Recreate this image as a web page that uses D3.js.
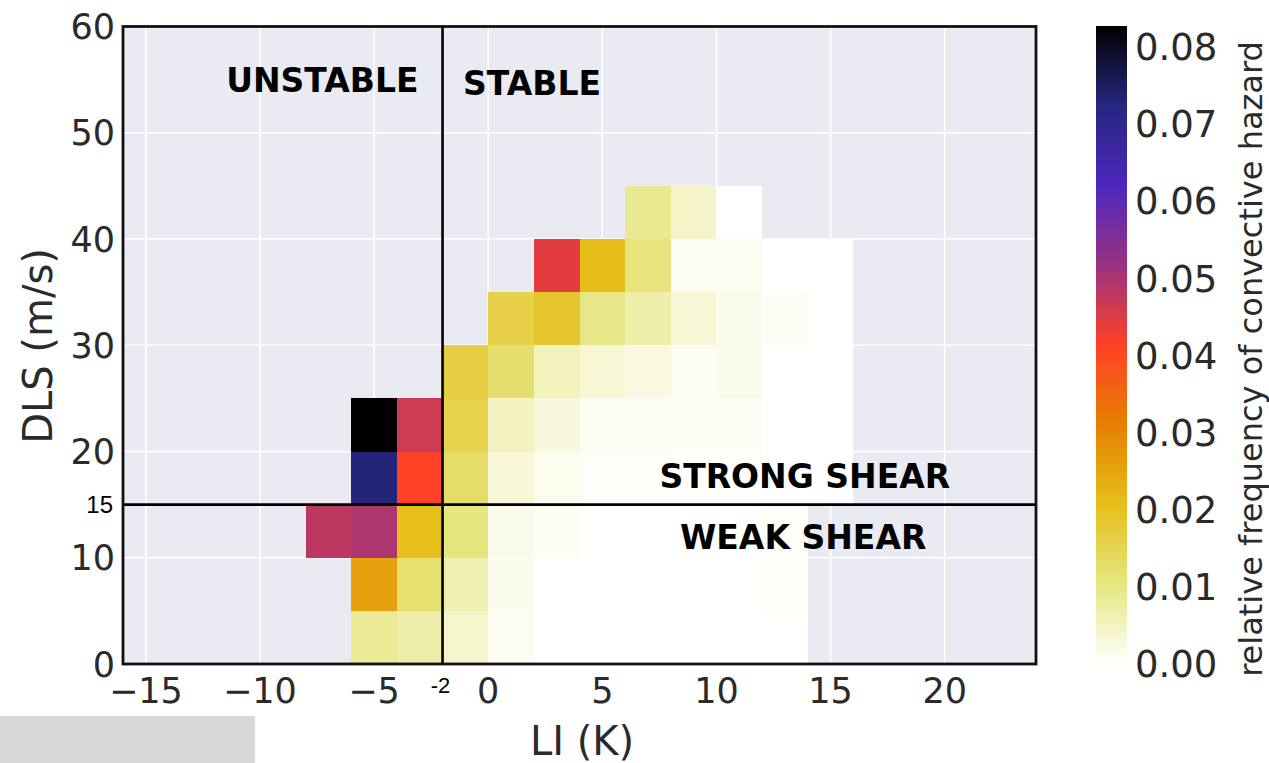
<!DOCTYPE html>
<html>
<head>
<meta charset="utf-8">
<script src="https://cdn.jsdelivr.net/npm/d3@7"></script>
<style>
  html, body { margin: 0; padding: 0; background: #ffffff; }
  svg { display: block; font-family: "DejaVu Sans", sans-serif; }
</style>
</head>
<body>
<svg id="chart" width="1269" height="763"></svg>
<script>
// Lower edges of the 2 K lifted-index bins
const liBins = [-8, -6, -4, -2, 0, 2, 4, 6, 8, 10, 12, 14];
const liWidth = 2;
// Lower edges of the 5 m/s deep-layer-shear bins
const dlsBins = [0, 5, 10, 15, 20, 25, 30, 35, 40];
const dlsHeight = 5;

// Relative frequency of convective hazard per DLS band (null = no samples)
const freqDls0  = [null, 0.0085, 0.0069, 0.0041, 0.0011, 0, 0, 0, 0, 0, 0, null];
const freqDls5  = [null, 0.0257, 0.0119, 0.0063, 0.0014, 0, 0, 0, 0, 0, 0.0005, null];
const freqDls10 = [0.0480, 0.0496, 0.0207, 0.0105, 0.0019, 0.0009, 0, 0, 0, 0, 0.0005, null];
const freqDls15 = [null, 0.0730, 0.0410, 0.0127, 0.0031, 0.0013, 0.0006, 0.0005, 0.0003, 0.0003, 0, 0];
const freqDls20 = [null, 0.0827, 0.0465, 0.0157, 0.0050, 0.0028, 0.0012, 0.0012, 0.0008, 0.0007, 0, 0];
const freqDls25 = [null, null, null, 0.0166, 0.0124, 0.0055, 0.0033, 0.0024, 0.0010, 0.0016, 0, 0];
const freqDls30 = [null, null, null, null, 0.0160, 0.0189, 0.0098, 0.0069, 0.0033, 0.0016, 0.0008, 0];
const freqDls35 = [null, null, null, null, null, 0.0443, 0.0210, 0.0108, 0.0009, 0.0011, 0, 0];
const freqDls40 = [null, null, null, null, null, null, null, 0.0089, 0.0045, 0, null, null];
const freqRows = [freqDls0, freqDls5, freqDls10, freqDls15, freqDls20, freqDls25, freqDls30, freqDls35, freqDls40];

// Axis ticks
const xTicks = [-15, -10, -5, 0, 5, 10, 15, 20];
const yTicks = [0, 10, 20, 30, 40, 50, 60];
const cbarTicks = [0, 0.01, 0.02, 0.03, 0.04, 0.05, 0.06, 0.07, 0.08];
const liThreshold = -2;
const dlsThreshold = 15;

// CMRmap_r colour stops (fraction of the colour range)
const cmapStops = [0, 0.125, 0.25, 0.375, 0.5, 0.625, 0.75, 0.875, 1];
const cmapColors = ["#ffffff", "rgb(230,230,128)", "rgb(230,191,26)", "rgb(230,128,0)",
  "rgb(255,64,38)", "rgb(153,51,128)", "rgb(77,38,191)", "rgb(38,38,128)", "#000000"];

const svg = d3.select("#chart");
const plot = { left: 123, right: 1036, top: 26.5, bottom: 664 };
const textGray = "#2a2a2a";

const x = d3.scaleLinear().domain([-16, 24]).range([plot.left, plot.right]);
const y = d3.scaleLinear().domain([0, 60]).range([plot.bottom, plot.top]);

const cells = [];
freqRows.forEach((row, r) => row.forEach((v, c) => {
  if (v !== null) cells.push({ li: liBins[c], dls: dlsBins[r], v });
}));
const vmax = d3.max(cells, d => d.v);
const color = d3.scaleLinear()
  .domain(cmapStops.map(s => s * vmax))
  .range(cmapColors)
  .interpolate(d3.interpolateRgb)
  .clamp(true);

// Plot background
svg.append("rect")
  .attr("x", plot.left).attr("y", plot.top)
  .attr("width", plot.right - plot.left).attr("height", plot.bottom - plot.top)
  .attr("fill", "#eaeaf2");

// Grid lines
const grid = svg.append("g").attr("stroke", "#ffffff").attr("stroke-width", 1.6);
grid.selectAll("line.gx").data(xTicks).join("line")
  .attr("x1", d => x(d)).attr("x2", d => x(d))
  .attr("y1", plot.top).attr("y2", plot.bottom);
grid.selectAll("line.gy").data(yTicks.slice(1, -1)).join("line")
  .attr("x1", plot.left).attr("x2", plot.right)
  .attr("y1", d => y(d)).attr("y2", d => y(d));

// Heatmap cells
svg.append("g").selectAll("rect").data(cells).join("rect")
  .attr("x", d => x(d.li))
  .attr("y", d => y(d.dls + dlsHeight))
  .attr("width", d => x(d.li + liWidth) - x(d.li))
  .attr("height", d => y(d.dls) - y(d.dls + dlsHeight))
  .attr("fill", d => color(d.v))
  .attr("shape-rendering", "crispEdges");

// Threshold lines
svg.append("line")
  .attr("x1", x(liThreshold)).attr("x2", x(liThreshold))
  .attr("y1", plot.top).attr("y2", plot.bottom)
  .attr("stroke", "#000").attr("stroke-width", 2.6);
svg.append("line")
  .attr("x1", plot.left).attr("x2", plot.right)
  .attr("y1", y(dlsThreshold)).attr("y2", y(dlsThreshold))
  .attr("stroke", "#000").attr("stroke-width", 2.6);

// Frame
svg.append("rect")
  .attr("x", plot.left).attr("y", plot.top)
  .attr("width", plot.right - plot.left).attr("height", plot.bottom - plot.top)
  .attr("fill", "none").attr("stroke", "#111").attr("stroke-width", 2.8);

// Region annotations
const ann = svg.append("g")
  .attr("font-family", "'DejaVu Sans', sans-serif")
  .attr("font-weight", "bold").attr("font-size", 33).attr("fill", "#000");
ann.append("text").attr("x", x(-3.05)).attr("y", y(53.8)).attr("text-anchor", "end").text("UNSTABLE");
ann.append("text").attr("x", x(-1.1)).attr("y", y(53.6)).text("STABLE");
ann.append("text").attr("x", x(7.5)).attr("y", y(16.55)).text("STRONG SHEAR");
ann.append("text").attr("x", x(8.4)).attr("y", y(10.8)).text("WEAK SHEAR");

// Tick labels
const fmtMinus = d => d < 0 ? "\u2212" + Math.abs(d) : String(d);
svg.append("g").selectAll("text").data(xTicks).join("text")
  .attr("x", d => x(d)).attr("y", 703)
  .attr("text-anchor", "middle").attr("font-size", 35).attr("fill", textGray)
  .text(fmtMinus);
svg.append("g").selectAll("text").data(yTicks).join("text")
  .attr("x", 115).attr("y", d => y(d)).attr("dy", "0.36em")
  .attr("text-anchor", "end").attr("font-size", 35).attr("fill", textGray)
  .text(d => d);

// Threshold tick labels
svg.append("text")
  .attr("x", x(liThreshold) - 2).attr("y", 693)
  .attr("text-anchor", "middle").attr("font-size", 22)
  .attr("font-family", "'Liberation Sans', Arial, sans-serif").attr("fill", "#000")
  .text("-2");
svg.append("text")
  .attr("x", 113).attr("y", y(dlsThreshold)).attr("dy", "0.36em")
  .attr("text-anchor", "end").attr("font-size", 24)
  .attr("font-family", "'Liberation Sans', Arial, sans-serif").attr("fill", "#000")
  .text("15");

// Axis titles
svg.append("text")
  .attr("x", 582).attr("y", 755)
  .attr("text-anchor", "middle").attr("font-size", 40).attr("fill", textGray)
  .text("LI (K)");
svg.append("text")
  .attr("transform", "translate(52,346) rotate(-90)")
  .attr("text-anchor", "middle").attr("font-size", 40).attr("fill", textGray)
  .text("DLS (m/s)");

// Colour bar
const cbar = { x: 1096, width: 31, top: 26, bottom: 664 };
const cy = d3.scaleLinear().domain([0, vmax]).range([cbar.bottom, cbar.top]);
const grad = svg.append("defs").append("linearGradient")
  .attr("id", "cbarGrad").attr("x1", 0).attr("x2", 0).attr("y1", 1).attr("y2", 0);
grad.selectAll("stop").data(cmapStops).join("stop")
  .attr("offset", d => d)
  .attr("stop-color", (d, i) => cmapColors[i]);
svg.append("rect")
  .attr("x", cbar.x).attr("y", cbar.top)
  .attr("width", cbar.width).attr("height", cbar.bottom - cbar.top)
  .attr("fill", "url(#cbarGrad)");
svg.append("g").selectAll("text").data(cbarTicks).join("text")
  .attr("x", 1135).attr("y", d => cy(d)).attr("dy", "0.36em")
  .attr("font-size", 37).attr("fill", textGray)
  .text(d => d.toFixed(2));
svg.append("text")
  .attr("transform", "translate(1262,359) rotate(-90)")
  .attr("text-anchor", "middle").attr("font-size", 32).attr("fill", textGray)
  .text("relative frequency of convective hazard");

// Grey footer block
svg.append("rect")
  .attr("x", 0).attr("y", 716).attr("width", 255).attr("height", 47)
  .attr("fill", "#d8d8d8");
</script>
</body>
</html>
